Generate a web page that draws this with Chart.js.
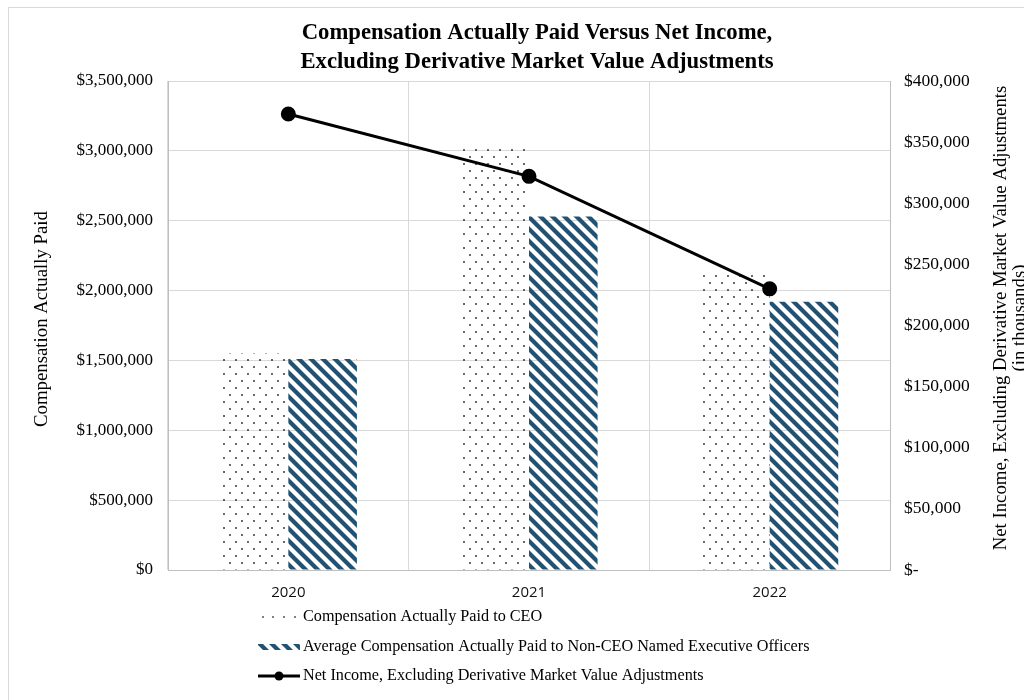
<!DOCTYPE html>
<html>
<head>
<meta charset="utf-8">
<script src="https://cdn.jsdelivr.net/npm/chart.js@4"></script>
<style>
  body { margin: 0; background: #fff; }
  #wrap { position: relative; width: 1024px; height: 700px; overflow: hidden; }
  #frame { position: absolute; left: 8px; top: 7px; width: 1100px; height: 800px; border: 1px solid #d9d9d9; }
  canvas { position: absolute; left: 0; top: 0; }
</style>
</head>
<body>
<div id="wrap">
  <div id="frame"></div>
  <canvas id="capChart" width="1024" height="700"></canvas>
</div>
<script>
// Data
const years = ['2020', '2021', '2022'];
const ceoPay = [1550000, 3030000, 2140000];
const neoAvgPay = [1510000, 2530000, 1920000];
const netIncome = [373000, 322000, 230000]; // in thousands

const leftTicks = { min: 0, max: 3500000, step: 500000 };
const rightTicks = { min: 0, max: 400000, step: 50000 };

const seriesNames = [
    'Compensation Actually Paid to CEO',
    'Average Compensation Actually Paid to Non-CEO Named Executive Officers',
    'Net Income, Excluding Derivative Market Value Adjustments'
];

const serif = '"Liberation Serif", "Times New Roman", serif';
const hatchColor = '#215273';

// Patterns
function makeDots() {
    const c = document.createElement('canvas');
    c.width = 12; c.height = 14;
    const g = c.getContext('2d');
    g.fillStyle = '#222';
    [[2, 3], [8, 10]].forEach(p => {
        g.beginPath();
        g.arc(p[0], p[1], 0.9, 0, Math.PI * 2);
        g.fill();
    });
    return g.createPattern(c, 'repeat');
}

function makeHatch() {
    const c = document.createElement('canvas');
    c.width = 12; c.height = 12;
    const g = c.getContext('2d');
    g.strokeStyle = hatchColor;
    g.lineWidth = 4.2;
    [-12, 0, 12].forEach(k => {
        g.beginPath();
        g.moveTo(-2, -2 + k);
        g.lineTo(14, 14 + k);
        g.stroke();
    });
    return g.createPattern(c, 'repeat');
}

const ctx = document.getElementById('capChart').getContext('2d');
const dotPattern = makeDots();
const hatchPattern = makeHatch();

function money(v) {
    return '$' + Number(v).toLocaleString('en-US');
}

// Titles, axis titles and legend drawn on top
const textPlugin = {
    id: 'texts',
    afterDraw(chart) {
        const c = chart.ctx;
        c.save();
        c.fillStyle = '#000';
        c.textAlign = 'center';
        c.textBaseline = 'middle';

        // chart title
        c.font = 'bold 22.7px ' + serif;
        c.fillText('Compensation Actually Paid Versus Net Income,', 537, 33);
        c.fillText('Excluding Derivative Market Value Adjustments', 537, 62);

        // left axis title
        c.font = '18.8px ' + serif;
        c.save();
        c.translate(42, 319);
        c.rotate(-Math.PI / 2);
        c.fillText('Compensation Actually Paid', 0, 0);
        c.restore();

        // right axis title
        c.save();
        c.translate(1001, 318);
        c.rotate(-Math.PI / 2);
        c.fillText('Net Income, Excluding Derivative Market Value Adjustments', 0, 0);
        c.fillText('(in thousands)', 0, 19);
        c.restore();

        // legend
        c.textAlign = 'left';
        c.font = '16.2px ' + serif;
        const lx = 258, tx = 303;
        const rows = [617, 647, 676];

        c.fillStyle = '#444';
        [263, 273, 284, 295].forEach(x => {
            c.beginPath();
            c.arc(x, rows[0], 0.9, 0, Math.PI * 2);
            c.fill();
        });

        c.fillStyle = hatchPattern;
        c.fillRect(lx, rows[1] - 3, 42, 6);

        c.strokeStyle = '#000';
        c.lineWidth = 3;
        c.beginPath();
        c.moveTo(lx, rows[2]);
        c.lineTo(lx + 42, rows[2]);
        c.stroke();
        c.fillStyle = '#000';
        c.beginPath();
        c.arc(lx + 21, rows[2], 4.5, 0, Math.PI * 2);
        c.fill();

        c.fillStyle = '#000';
        seriesNames.forEach((name, i) => c.fillText(name, tx, rows[i]));
        c.restore();
    }
};

const capChart = new Chart(ctx, {
    type: 'bar',
    data: {
        labels: years,
        datasets: [{
            type: 'line',
            label: seriesNames[2],
            data: netIncome,
            yAxisID: 'y1',
            borderColor: '#000',
            backgroundColor: '#000',
            borderWidth: 3,
            pointRadius: 6,
            pointBackgroundColor: '#000',
            tension: 0,
            order: 0
        }, {
            label: seriesNames[0],
            data: ceoPay,
            yAxisID: 'y',
            backgroundColor: dotPattern,
            borderWidth: 0,
            categoryPercentage: 0.57,
            barPercentage: 1.0,
            order: 1
        }, {
            label: seriesNames[1],
            data: neoAvgPay,
            yAxisID: 'y',
            backgroundColor: hatchPattern,
            borderWidth: 0,
            categoryPercentage: 0.57,
            barPercentage: 1.0,
            order: 1
        }]
    },
    options: {
        responsive: false,
        devicePixelRatio: 1,
        animation: false,
        layout: { padding: { top: 81, left: 0, right: 0, bottom: 0 } },
        plugins: {
            legend: { display: false },
            title: { display: false },
            tooltip: { enabled: false }
        },
        scales: {
            x: {
                grid: { color: '#d9d9d9', drawTicks: false },
                border: { color: '#bfbfbf' },
                ticks: {
                    padding: 14,
                    color: '#111',
                    font: { family: '"Open Sans", "Liberation Sans", sans-serif', size: 15 }
                },
                afterFit: function(scale) { scale.height = 130; }
            },
            y: {
                position: 'left',
                min: leftTicks.min,
                max: leftTicks.max,
                grid: { color: '#d9d9d9', drawTicks: false },
                border: { color: '#bfbfbf' },
                ticks: {
                    stepSize: leftTicks.step,
                    padding: 15,
                    color: '#000',
                    font: { family: serif, size: 17 },
                    callback: function(value) { return money(value); }
                },
                afterFit: function(scale) { scale.width = 168; }
            },
            y1: {
                position: 'right',
                min: rightTicks.min,
                max: rightTicks.max,
                grid: { display: false, drawTicks: false },
                border: { display: true, color: '#bfbfbf' },
                ticks: {
                    stepSize: rightTicks.step,
                    padding: 14,
                    color: '#000',
                    font: { family: serif, size: 17.5 },
                    callback: function(value) { return value === 0 ? '$-' : money(value); }
                },
                afterFit: function(scale) { scale.width = 134; }
            }
        }
    },
    plugins: [textPlugin]
});
</script>
</body>
</html>
